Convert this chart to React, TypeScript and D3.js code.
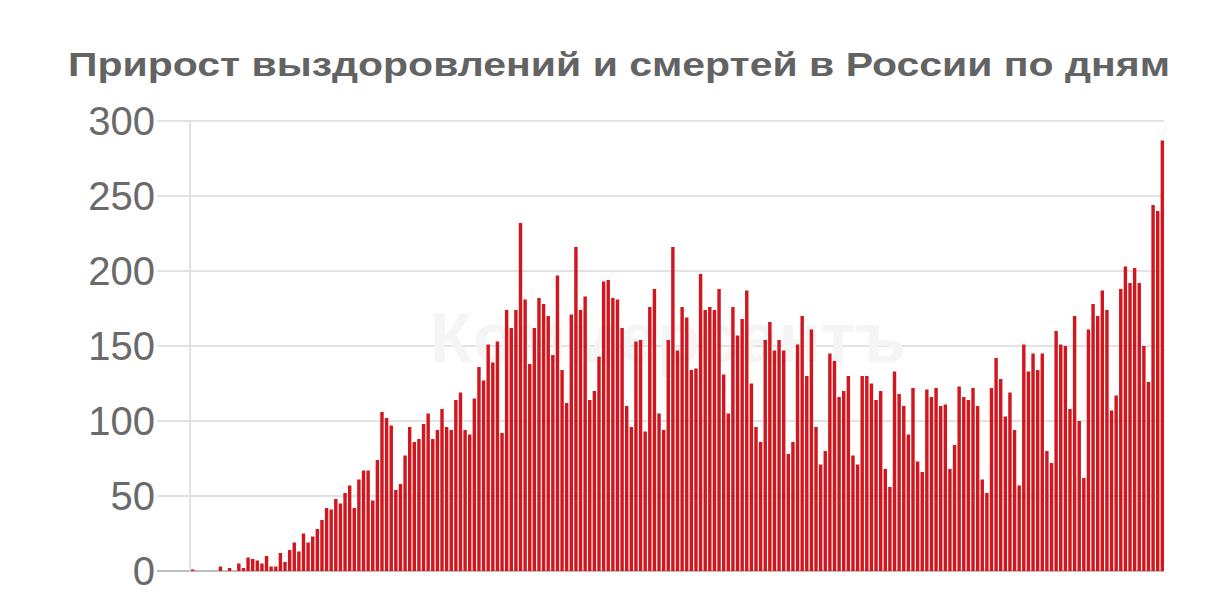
import React from "react";
import * as d3 from "d3";

const title = "Прирост выздоровлений и смертей в России по дням";
const watermark = "Коммерсантъ";
const yTicks = [0, 50, 100, 150, 200, 250, 300];

// daily increase values, one per day
const values = [
  1, 0, 0, 0, 0, 0, 3, 0, 2, 0,
  5, 2, 9, 8, 7, 5, 10, 3, 3, 12,
  6, 14, 19, 13, 25, 19, 23, 28, 34, 42,
  41, 48, 45, 52, 57, 42, 61, 67, 67, 47,
  74, 106, 102, 97, 54, 58, 77, 96, 86, 88,
  98, 105, 88, 94, 108, 96, 94, 114, 119, 94,
  91, 115, 136, 127, 151, 139, 153, 92, 174, 162,
  174, 232, 181, 138, 162, 182, 178, 170, 144, 197,
  134, 112, 171, 216, 174, 183, 114, 120, 143, 193,
  194, 182, 181, 162, 110, 96, 153, 154, 93, 176,
  188, 105, 94, 154, 216, 147, 176, 169, 134, 135,
  198, 174, 176, 174, 188, 131, 105, 176, 157, 168,
  187, 125, 96, 86, 154, 166, 147, 154, 147, 78,
  86, 151, 170, 130, 161, 96, 71, 80, 145, 140,
  116, 120, 130, 77, 71, 130, 130, 125, 114, 120,
  68, 56, 133, 118, 110, 91, 122, 73, 66, 121,
  116, 122, 110, 111, 68, 84, 123, 116, 114, 122,
  110, 61, 52, 122, 142, 128, 103, 119, 94, 57,
  151, 133, 145, 134, 145, 80, 72, 160, 151, 150,
  108, 170, 100, 62, 161, 178, 170, 187, 174, 107,
  117, 188, 203, 192, 202, 192, 150, 126, 244, 240,
  287,
];
const days = values.map((_, i) => i);

export default function App() {
  const W = 1227;
  const H = 592;
  const x = d3.scaleBand<number>().domain(days).range([190.5, 1164.5]).paddingInner(0.26).paddingOuter(0.1);
  const y = d3.scaleLinear().domain([0, 300]).range([571, 121]);

  return (
    <svg
      width={W}
      height={H}
      style={{ position: "absolute", left: 0, top: 0, background: "#fff" }}
      fontFamily="'Liberation Sans', Arial, Helvetica, sans-serif"
    >
      <rect x={0} y={0} width={W} height={H} fill="#fff" />
      <text
        x={68}
        y={76}
        fontSize={34}
        fontWeight="bold"
        fill="#636363"
        textLength={1102}
        lengthAdjust="spacingAndGlyphs"
      >
        {title}
      </text>
      {/* gridlines */}
      {yTicks.map((t) => (
        <line
          key={"g" + t}
          x1={157}
          x2={1164}
          y1={y(t)}
          y2={y(t)}
          stroke={t === 0 ? "#a8a8a8" : "#e2e2e2"}
          strokeWidth={t === 0 ? 1.6 : 2}
        />
      ))}
      <line x1={190} x2={190} y1={y(300)} y2={y(0)} stroke="#e2e2e2" strokeWidth={2} />
      {yTicks.map((t) => (
        <text
          key={"l" + t}
          x={155}
          y={y(t)}
          dy="0.35em"
          textAnchor="end"
          fontSize={40}
          fill="#6a6a6a"
        >
          {t}
        </text>
      ))}
      <text x={430} y={362} fontSize={70} fontWeight="bold" fill="#f5f5f5">
        {watermark}
      </text>
      {values.map((v, i) => (
        <rect
          key={i}
          x={x(i)}
          y={y(v)}
          width={x.bandwidth()}
          height={y(0) - y(v)}
          fill="#d3161d"
        />
      ))}
    </svg>
  );
}
